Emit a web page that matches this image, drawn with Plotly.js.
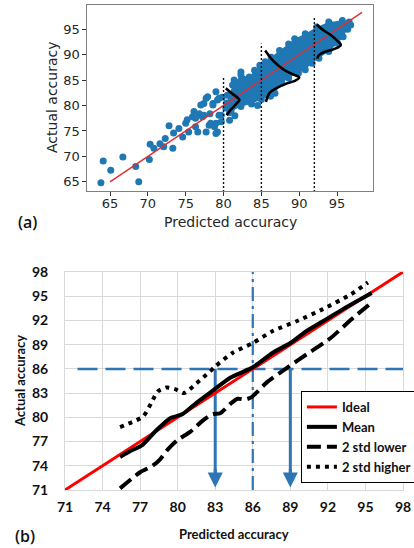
<!DOCTYPE html>
<html>
<head>
<meta charset="utf-8">
<script src="https://cdn.plot.ly/plotly-3.0.1.min.js"></script>
<style>html,body{margin:0;padding:0;background:#fff;}#chart{width:414px;height:548px;}</style>
</head>
<body>
<div id="chart"></div>
<script>
// ---------- Panel (a) data ----------
const outlierX = [63.8,64.1,65.1,66.7,68.4,68.8,70.2,70.3,70.8,71.6,72.1,72.3,72.8,73.3,73.4,74.1,74.6,75.0,75.2,75.4,75.9,76.3,76.8,77.2,77.4,77.7,78.1,77.9,78.2,78.6,79.0,79.2,79.4,79.8,79.2,76.6,76.1,76.3,77.0,77.7,78.3,78.8,79.0,79.0,79.4,79.7,79.7,78.6,77.4,80.8,81.5,80.3,81.0,80.5,81.4,82.3,80.6,81.2,81.8,82.2,81.0,82.5,83.0,83.5,84.0,84.5];
const outlierY = [64.8,69.1,67.3,69.9,68.0,65.0,69.4,72.4,71.6,72.5,71.9,73.5,76.0,71.6,74.6,75.5,73.8,76.5,77.2,74.8,77.8,75.8,78.4,77.8,80.4,74.8,76.1,81.7,78.4,80.4,76.5,81.1,78.1,81.6,74.8,74.8,78.8,77.5,80.1,81.4,76.5,75.8,74.5,82.7,81.4,76.8,78.1,80.1,78.1,77.1,78.0,79.5,80.5,82.0,85.0,86.6,80.2,81.5,82.5,83.5,79.0,81.0,82.5,84.0,83.0,80.0];
// outline of the dense cloud (upper edge, then lower edge back)
const cloudX = [80.4,81.2,82.3,83.4,84.1,84.8,85.5,86.3,87.4,88.6,89.4,90.8,92.3,93.9,95.7,96.6,96.8,96.4,95.8,95.1,93.9,92.6,91.7,90.8,89.9,88.6,87.7,86.8,86.2,85.0,83.7,82.3,80.8];
const cloudY = [80.5,84.0,86.0,85.6,86.9,87.9,88.6,89.5,90.8,92.1,93.1,94.1,95.4,96.4,96.7,96.4,95.8,95.0,93.5,92.2,90.6,89.3,88.3,87.0,86.4,85.4,84.4,82.4,81.8,81.2,80.3,79.8,78.6];
const idealA = [65, 98.3];
const vlineX = [80, 85, 92];
const vlineTop = [85.4, 92.2, 97.4];
const vlineBottom = 63;
const curve1X = [80.3,81.0,81.7,82.1,81.8,81.3,80.8,80.4];
const curve1Y = [83.4,82.5,81.7,81.1,80.5,79.7,78.9,78.1];
const curve2X = [85.5,85.9,86.6,87.9,89.2,90.0,89.5,88.3,87.0,86.1,85.8,85.6];
const curve2Y = [90.8,90.0,88.7,87.1,86.1,85.5,84.9,84.3,83.4,82.5,81.6,80.7];
const curve3X = [92.3,93.0,94.2,95.1,95.5,95.0,94.0,93.0,92.5,92.4];
const curve3Y = [95.9,95.0,93.8,92.6,91.9,91.3,90.8,90.3,89.7,89.2];
const ticksA = [65,70,75,80,85,90,95];

// ---------- Panel (b) data ----------
const idealB = [71, 98];
const meanX = [75.4,76.2,77.2,78.3,79.4,80.4,81.5,82.8,84.2,86.0,87.6,89.0,90.3,91.6,93.2,95.5];
const meanY = [75.1,75.8,76.6,78.4,79.9,80.4,81.8,83.3,84.9,86.2,88.0,89.2,90.7,91.9,93.4,95.4];
const lowX = [75.4,77.0,78.0,78.6,79.2,80.0,81.0,82.0,82.8,83.4,84.3,84.8,85.4,85.9,87.1,88.7,90.3,92.2,94.0,95.5];
const lowY = [71.2,73.2,74.0,74.8,76.0,77.2,78.2,79.6,80.4,80.5,81.8,82.3,82.2,82.5,84.3,86.1,87.8,89.8,92.3,94.2];
const highX = [75.4,76.5,77.25,77.9,78.4,79.1,79.8,80.5,81.5,82.3,83.0,84.4,86.0,87.6,89.5,91.6,93.8,95.2];
const highY = [78.8,79.5,80.1,81.8,83.2,83.7,83.5,83.0,84.2,85.3,86.3,88.0,89.2,90.7,91.9,93.4,95.2,96.7];
const refLevel = 86;
const hLineX = [72, 98];
const vLineY = [71, 98.4];
const arrowX = [83, 89];
const arrowBottom = 71.3;
const ticksB = [71,74,77,80,83,86,89,92,95,98];

const BLUE_A = '#1f77b4';
const BLUE_B = '#2e75b6';

const traces = [];
// Panel (a)
traces.push({x: cloudX, y: cloudY, xaxis:'x', yaxis:'y', type:'scatter', mode:'markers', fill:'toself',
  fillcolor: BLUE_A, marker:{color: BLUE_A, size:7}, showlegend:false, hoverinfo:'skip'});
traces.push({x: outlierX, y: outlierY, xaxis:'x', yaxis:'y', type:'scatter', mode:'markers',
  marker:{color: BLUE_A, size:7}, showlegend:false});
traces.push({x: idealA, y: idealA, xaxis:'x', yaxis:'y', type:'scatter', mode:'lines',
  line:{color:'rgb(225,45,50)', width:1.4}, showlegend:false});
vlineX.forEach((vx, i) => {
  traces.push({x:[vx, vx], y:[vlineBottom, vlineTop[i]], xaxis:'x', yaxis:'y', type:'scatter', mode:'lines',
    line:{color:'#111', width:1.4, dash:'2px,2px'}, showlegend:false});
});
[[curve1X,curve1Y],[curve2X,curve2Y],[curve3X,curve3Y]].forEach(c => {
  traces.push({x:c[0], y:c[1], xaxis:'x', yaxis:'y', type:'scatter', mode:'lines',
    line:{color:'#000', width:2.6, shape:'spline', smoothing:1}, showlegend:false});
});

// Panel (b)
traces.push({x: hLineX, y:[refLevel, refLevel], xaxis:'x2', yaxis:'y2', type:'scatter', mode:'lines',
  line:{color: BLUE_B, width:2.5, dash:'20px,8px'}, showlegend:false});
traces.push({x:[refLevel, refLevel], y: vLineY, xaxis:'x2', yaxis:'y2', type:'scatter', mode:'lines', cliponaxis:false,
  line:{color: BLUE_B, width:2.2, dash:'14px,5px,3px,5px'}, showlegend:false});
arrowX.forEach(ax => {
  traces.push({x:[ax, ax], y:[refLevel, arrowBottom + 1.2], xaxis:'x2', yaxis:'y2', type:'scatter', mode:'lines',
    line:{color: BLUE_B, width:3}, showlegend:false});
});
traces.push({x: idealB, y: idealB, xaxis:'x2', yaxis:'y2', type:'scatter', mode:'lines', name:'Ideal',
  line:{color:'#ff0000', width:3}});
traces.push({x: meanX, y: meanY, xaxis:'x2', yaxis:'y2', type:'scatter', mode:'lines', name:'Mean',
  line:{color:'#000', width:4, shape:'spline', smoothing:0.6}});
traces.push({x: lowX, y: lowY, xaxis:'x2', yaxis:'y2', type:'scatter', mode:'lines', name:'2 std lower',
  line:{color:'#000', width:4, dash:'14px,6px', shape:'spline', smoothing:0.6}});
traces.push({x: highX, y: highY, xaxis:'x2', yaxis:'y2', type:'scatter', mode:'lines', name:'2 std higher',
  line:{color:'#000', width:4, dash:'4px,5px', shape:'spline', smoothing:0.6}});

const fA = {family:'DejaVu Sans', size:13, color:'#262626'};
const fB = {family:'Lato', size:14, color:'#111', weight:'bold'};

const annotations = [
  {text:'Actual accuracy', xref:'paper', yref:'paper', x:52/414, y:(548-98)/548, textangle:-90, showarrow:false,
   font:{family:'DejaVu Sans', size:14, color:'#262626'}, xanchor:'center', yanchor:'middle'},
  {text:'Predicted accuracy', xref:'paper', yref:'paper', x:230/414, y:(548-222)/548, showarrow:false,
   font:{family:'DejaVu Sans', size:14, color:'#262626'}, xanchor:'center', yanchor:'middle'},
  {text:'(a)', xref:'paper', yref:'paper', x:28/414, y:(548-222)/548, showarrow:false,
   font:{family:'Open Sans', size:16, color:'#111', weight:600}, xanchor:'center', yanchor:'middle'},
  {text:'Actual accuracy', xref:'paper', yref:'paper', x:20/414, y:(548-381)/548, textangle:-90, showarrow:false,
   font:{family:'Lato', size:13, color:'#111', weight:'bold'}, xanchor:'center', yanchor:'middle'},
  {text:'Predicted accuracy', xref:'paper', yref:'paper', x:234/414, y:(548-534)/548, showarrow:false,
   font:{family:'Lato', size:13, color:'#111', weight:'bold'}, xanchor:'center', yanchor:'middle'},
  {text:'(b)', xref:'paper', yref:'paper', x:25/414, y:(548-536)/548, showarrow:false,
   font:{family:'Open Sans', size:16, color:'#111', weight:600}, xanchor:'center', yanchor:'middle'}
];
arrowX.forEach(ax => {
  annotations.push({x: ax, y: arrowBottom, xref:'x2', yref:'y2', ax: ax, ay: arrowBottom + 2.5, axref:'x2', ayref:'y2',
    text:'', showarrow:true, arrowhead:2, arrowsize:1, arrowwidth:3, arrowcolor: BLUE_B});
});

const layout = {
  width:414, height:548,
  margin:{l:0, r:0, t:0, b:0, autoexpand:false},
  paper_bgcolor:'#fff', plot_bgcolor:'#fff',
  showlegend:true,
  xaxis:{domain:[87.3/414, 373/414], anchor:'y', range:[62.0, 99.75], tickvals: ticksA,
    showgrid:false, zeroline:false, showline:true, mirror:true, linecolor:'#808080', linewidth:1,
    ticks:'outside', ticklen:4, tickcolor:'#333', tickfont:fA, ticklabelstandoff:-4},
  yaxis:{domain:[(548-191)/548, (548-4.7)/548], anchor:'x', range:[63.2, 99.8], tickvals: ticksA,
    showgrid:false, zeroline:false, showline:true, mirror:true, linecolor:'#808080', linewidth:1,
    ticks:'outside', ticklen:4, tickcolor:'#333', tickfont:fA},
  xaxis2:{domain:[65/414, 403/414], anchor:'y2', range:[71, 98], tickvals: ticksB,
    showgrid:true, gridcolor:'#d9d9d9', gridwidth:1, zeroline:false, showline:true, mirror:true,
    linecolor:'#d9d9d9', linewidth:1, ticks:'', tickfont:fB, ticklabelstandoff:4},
  yaxis2:{domain:[(548-490)/548, (548-272)/548], anchor:'x2', range:[71, 98], tickvals: ticksB,
    showgrid:true, gridcolor:'#d9d9d9', gridwidth:1, zeroline:false, showline:true, mirror:true,
    linecolor:'#d9d9d9', linewidth:1, ticks:'', tickfont:fB, ticklabelstandoff:13},
  legend:{x:1.007, xanchor:'right', y:(548-391)/548, yanchor:'top', bgcolor:'#fff',
    bordercolor:'#000', borderwidth:1, font:{family:'Lato', size:13, color:'#111', weight:'bold'},
    itemwidth:30, tracegroupgap:0},
  annotations: annotations
};

Plotly.newPlot('chart', traces, layout, {displayModeBar:false, staticPlot:true});
</script>
</body>
</html>
